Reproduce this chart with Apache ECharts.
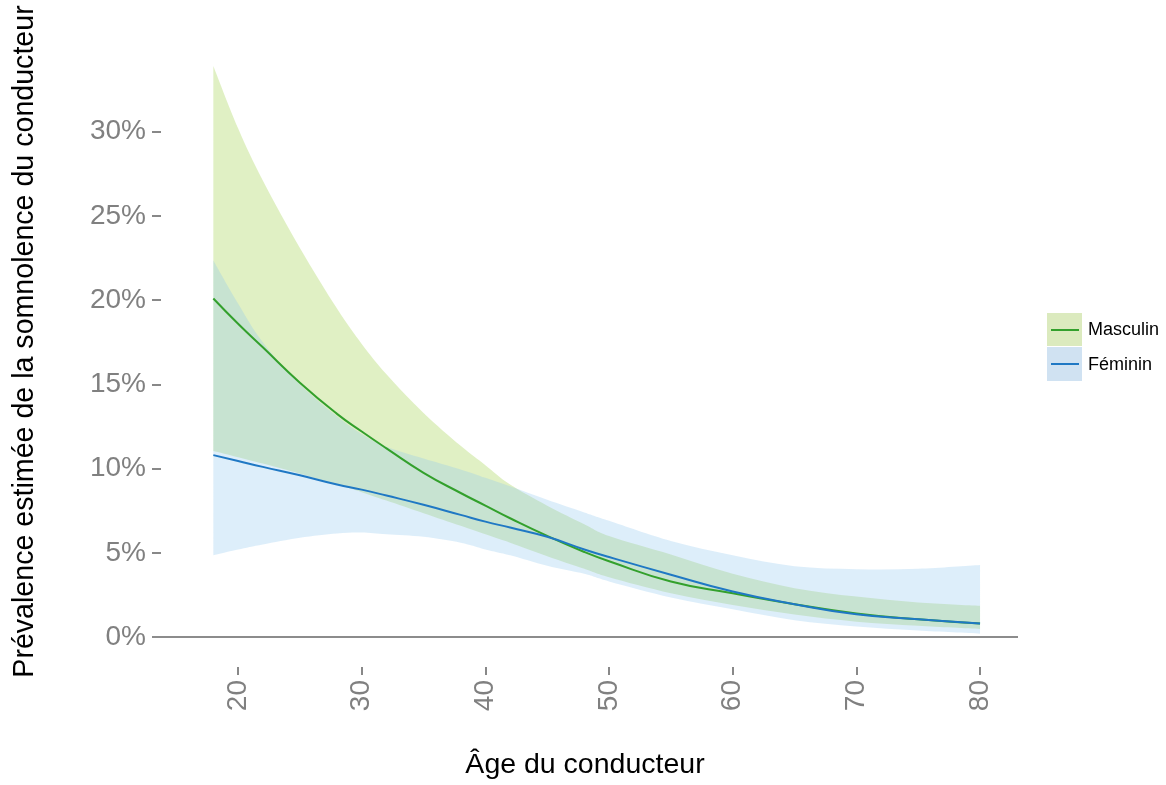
<!DOCTYPE html>
<html><head><meta charset="utf-8">
<script src="https://cdn.jsdelivr.net/npm/echarts@6/dist/echarts.min.js"></script>
<style>html,body{margin:0;padding:0;background:#fff}#c{width:1166px;height:785px}</style>
</head><body><div id="c"></div>
<script>
const ages   = [18,20,22,25,28,30,32,35,38,40,42,45,48,50,55,60,65,70,75,80];
const mFit   = [20.1,18.6,17.2,15.1,13.25,12.2,11.2,9.75,8.55,7.8,7.05,6.0,5.05,4.5,3.3,2.6,1.95,1.4,1.05,0.8];
const mUpper = [33.9,30.2,27.1,23.1,19.5,17.4,15.6,13.3,11.35,10.2,9.05,7.8,6.7,6.0,4.9,3.75,2.9,2.4,2.05,1.85];
const mLower = [11.05,10.68,10.3,9.7,9.05,8.6,8.1,7.35,6.6,6.1,5.6,4.8,4.05,3.55,2.6,1.9,1.33,0.91,0.67,0.48];
const fFit   = [10.8,10.45,10.1,9.6,9.05,8.75,8.4,7.85,7.25,6.85,6.5,5.95,5.2,4.75,3.7,2.7,1.95,1.35,1.05,0.8];
const fUpper = [22.35,19.8,17.5,15.0,13.1,12.05,11.3,10.6,9.95,9.45,8.95,8.15,7.4,6.9,5.7,4.85,4.2,4.03,4.05,4.27];
const fLower = [4.86,5.2,5.5,5.9,6.15,6.2,6.1,5.95,5.6,5.2,4.85,4.23,3.75,3.3,2.35,1.65,1.0,0.63,0.38,0.2];
const xTicks = [20,30,40,50,60,70,80];
const yTicks = [0,5,10,15,20,25,30];
const seriesNames = ['Masculin','Féminin'];

const FONT = 'Liberation Sans, Arial, sans-serif';
const GREEN = '#33a02c', BLUE = '#1f78c4';

function spline(p, start){
  let s = (start ? 'M' : 'L') + p[0][0] + ',' + p[0][1];
  for (let i = 0; i < p.length - 1; i++) {
    const p0 = p[Math.max(i-1,0)], p1 = p[i], p2 = p[i+1], p3 = p[Math.min(i+2,p.length-1)];
    const c1x = p1[0] + (p2[0]-p0[0])/6, c1y = p1[1] + (p2[1]-p0[1])/6;
    const c2x = p2[0] - (p3[0]-p1[0])/6, c2y = p2[1] - (p3[1]-p1[1])/6;
    s += ' C' + c1x + ',' + c1y + ' ' + c2x + ',' + c2y + ' ' + p2[0] + ',' + p2[1];
  }
  return s;
}
function band(upper, lower, color){
  return function(params, api){
    const up = ages.map((a,i) => api.coord([a, upper[i]]));
    const lo = ages.map((a,i) => api.coord([a, lower[i]])).reverse();
    const d = spline(up, true) + ' ' + spline(lo, false) + ' Z';
    return {type:'path', shape:{pathData:d}, style:{fill:color}};
  };
}

const chart = echarts.init(document.getElementById('c'));
chart.setOption({
  animation: false,
  backgroundColor: '#fff',
  grid: {left:152, right:148, top:16, bottom:117},
  xAxis: {
    type:'value', min:13.04, max:83.07,
    name:'Âge du conducteur', nameLocation:'middle', nameGap:84,
    nameTextStyle:{fontSize:28.5, color:'#000', fontFamily:FONT},
    axisLine:{show:false, onZero:false}, splitLine:{show:false},
    axisTick:{show:true, customValues:xTicks, length:8, lineStyle:{color:'#888', width:2}},
    axisLabel:{customValues:xTicks, rotate:90, margin:13, color:'#808080', fontSize:28, fontFamily:FONT}
  },
  yAxis: {
    type:'value', min:-1.78, max:36.87,
    name:'Prévalence estimée de la somnolence du conducteur', nameLocation:'middle', nameGap:112,
    nameTextStyle:{fontSize:28.6, color:'#000', fontFamily:FONT},
    axisLine:{show:false, onZero:false}, splitLine:{show:false},
    axisTick:{show:true, inside:true, customValues:yTicks, length:9, lineStyle:{color:'#888', width:2}},
    axisLabel:{customValues:yTicks, formatter:'{value}%', margin:6, color:'#808080', fontSize:28, fontFamily:FONT}
  },
  series: [
    {type:'custom', name:seriesNames[0]+' IC', data:[[50,10]], renderItem: band(mUpper, mLower, 'rgba(178,218,108,0.4)'), silent:true, z:1},
    {type:'custom', name:seriesNames[1]+' IC', data:[[50,10]], renderItem: band(fUpper, fLower, 'rgba(142,198,238,0.3)'), silent:true, z:1},
    {type:'line', name:seriesNames[0], data: ages.map((a,i)=>[a,mFit[i]]), smooth:true, showSymbol:false,
     lineStyle:{color:GREEN, width:2}, z:3,
     markLine:{silent:true, symbol:'none', label:{show:false}, lineStyle:{color:'#8c8c8c', width:2, type:'solid'}, data:[{yAxis:0}]}},
    {type:'line', name:seriesNames[1], data: ages.map((a,i)=>[a,fFit[i]]), smooth:true, showSymbol:false,
     lineStyle:{color:BLUE, width:2}, z:4}
  ],
  graphic: [
    {type:'rect', shape:{x:1047, y:313, width:35, height:33}, style:{fill:'rgb(219,234,190)'}},
    {type:'rect', shape:{x:1047, y:347, width:35, height:34}, style:{fill:'rgb(208,226,242)'}},
    {type:'line', shape:{x1:1051, y1:330, x2:1079, y2:330}, style:{stroke:GREEN, lineWidth:2}},
    {type:'line', shape:{x1:1051, y1:364, x2:1079, y2:364}, style:{stroke:BLUE, lineWidth:2}},
    {type:'text', x:1088, y:330, style:{text:seriesNames[0], fontSize:18, fontFamily:FONT, fill:'#000', verticalAlign:'middle'}},
    {type:'text', x:1088, y:365, style:{text:seriesNames[1], fontSize:18, fontFamily:FONT, fill:'#000', verticalAlign:'middle'}}
  ]
});
</script></body></html>
